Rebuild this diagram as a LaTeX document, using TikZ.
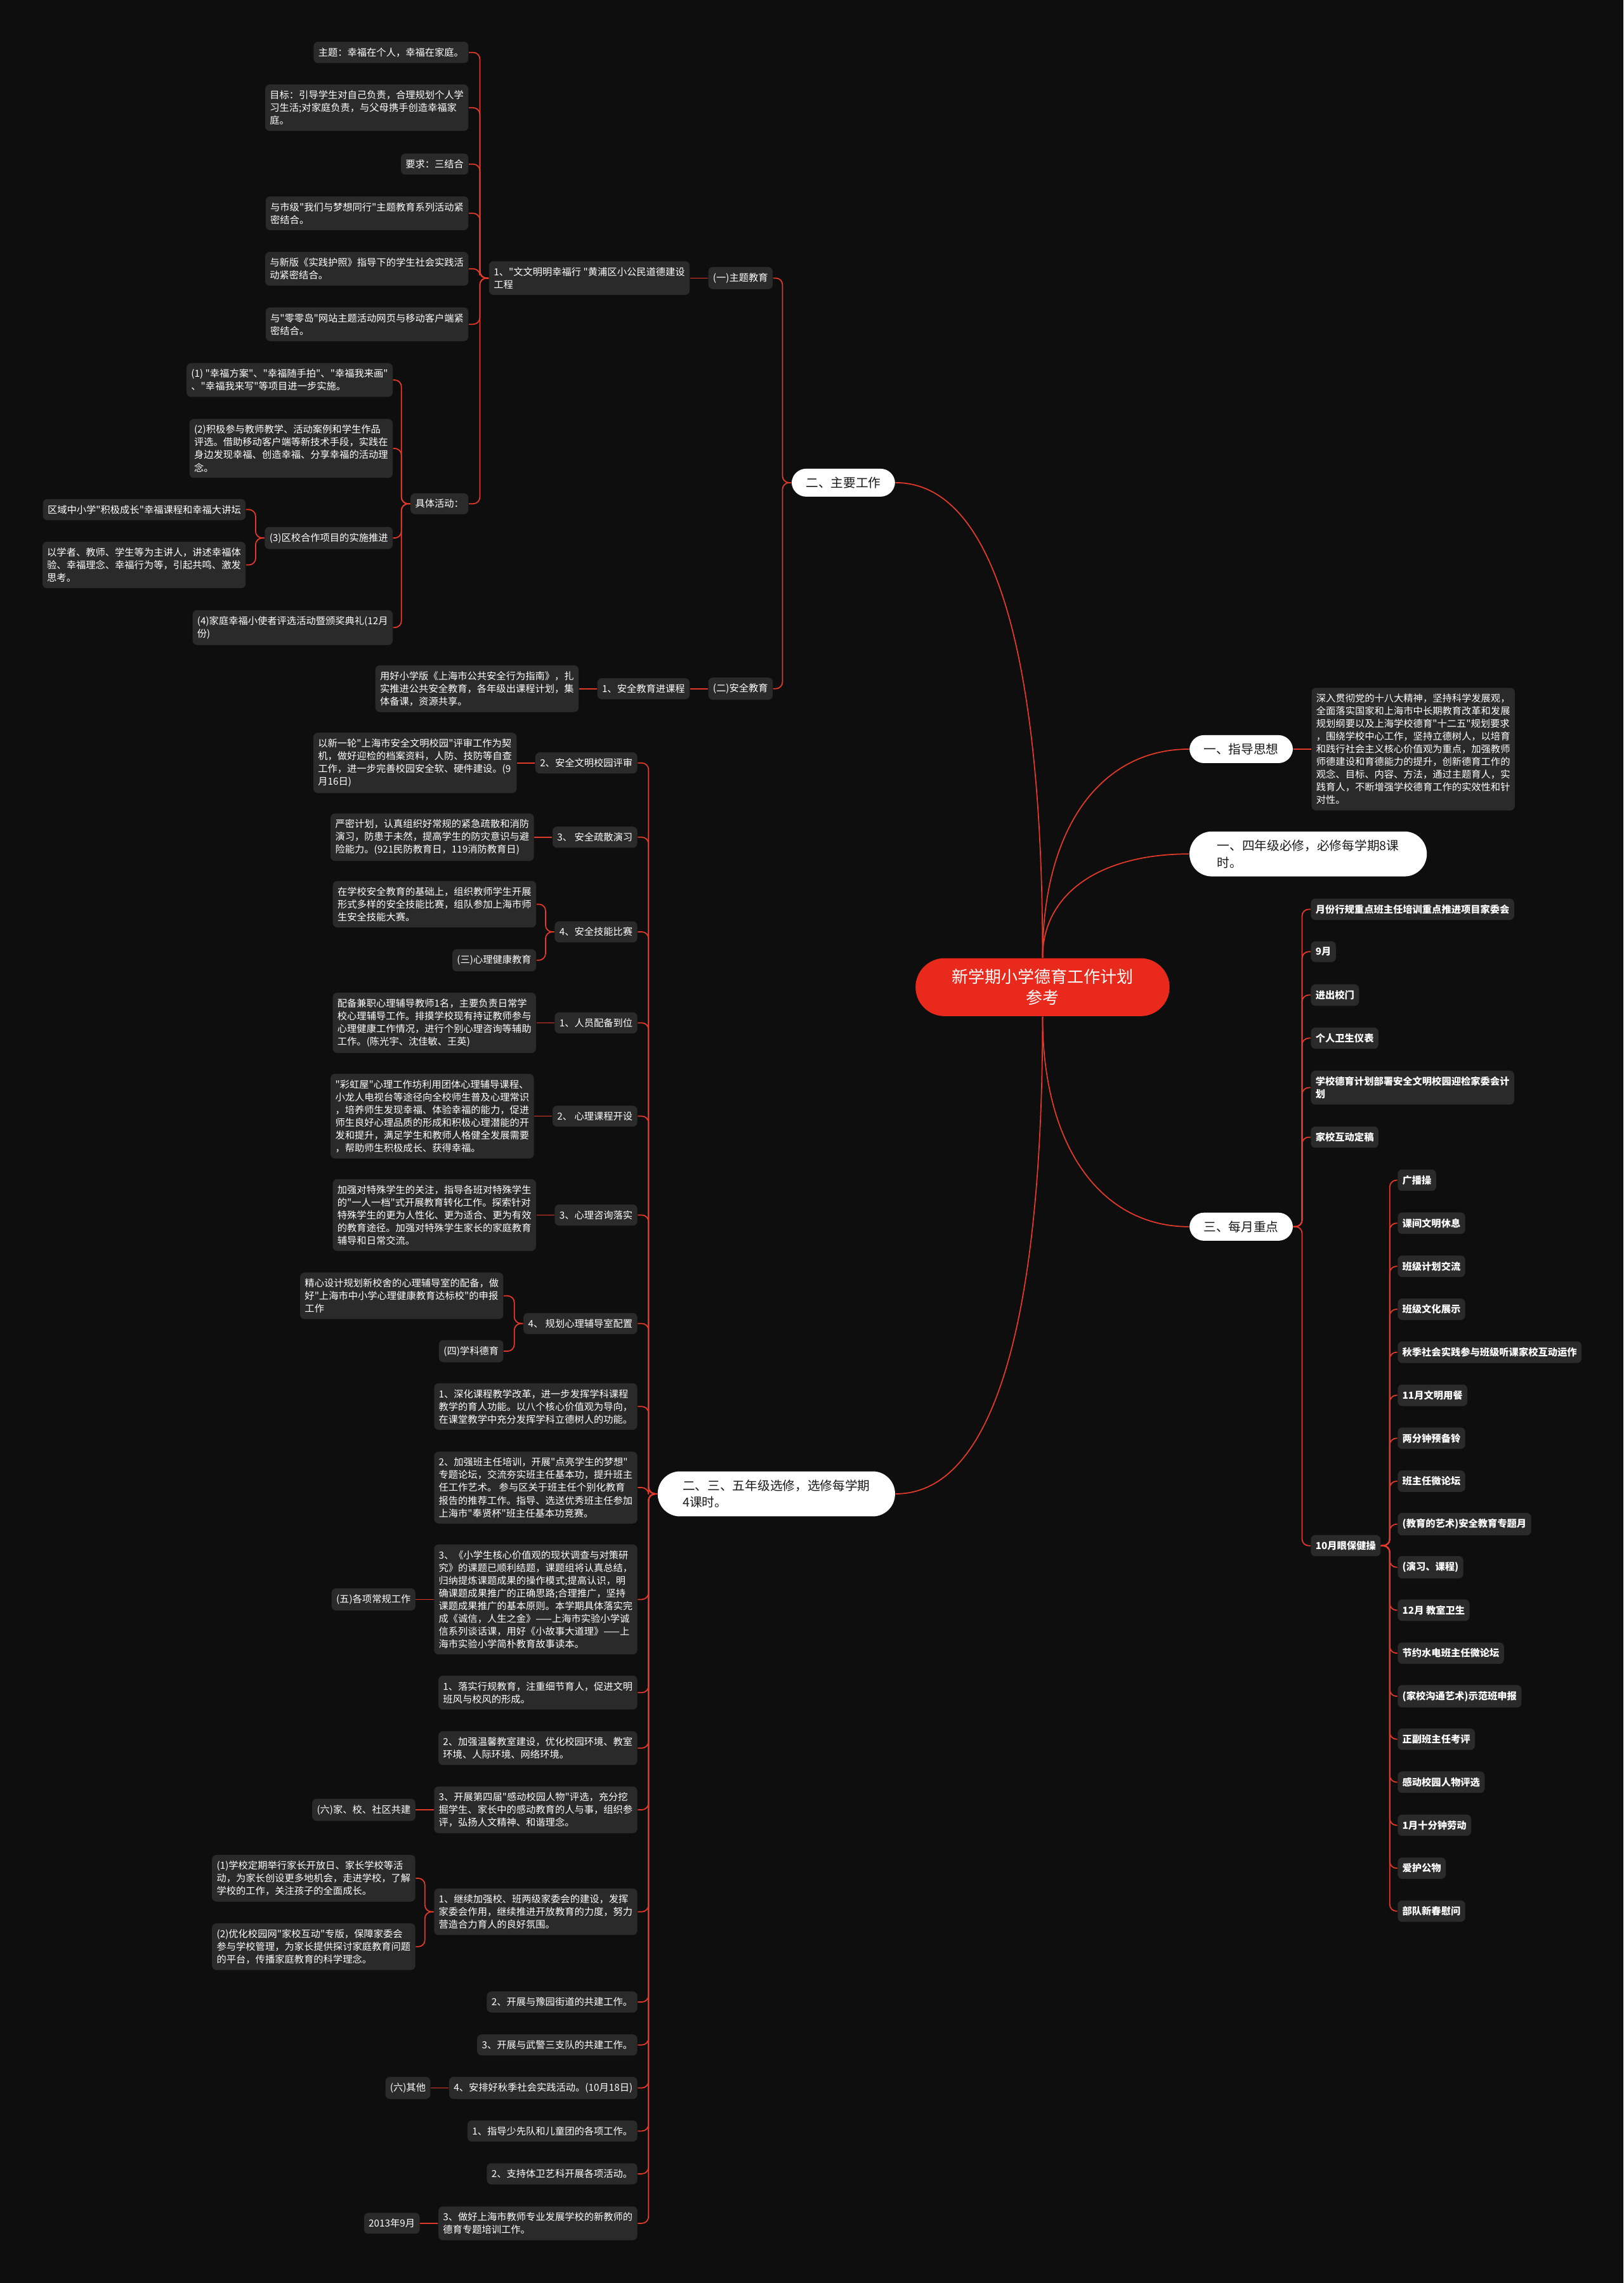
\documentclass[tikz,border=0pt]{standalone}
\usepackage{fontspec}
\setmainfont{Noto Sans CJK SC}[Ligatures=TeXOff]
\usepackage{tikz}
\usetikzlibrary{positioning}
\definecolor{bgdark}{HTML}{0E0E0E}
\definecolor{cardgray}{HTML}{2A2A2A}
\definecolor{linkred}{HTML}{E23A2A}
\definecolor{rootred}{HTML}{E8291C}
\definecolor{inkdark}{HTML}{1A1A1A}
\tikzset{
  rootbox/.style={
    rectangle, rounded corners=13pt, fill=rootred, text=white,
    font=\fontsize{7.4}{9.3}\selectfont, align=center,
    minimum width=114pt, minimum height=26pt, inner sep=2pt
  },
  topicbox/.style={
    rectangle, rounded corners=6.5pt, fill=white, text=inkdark,
    font=\fontsize{5.6}{7.6}\selectfont, align=left,
    inner xsep=6.4pt, inner ysep=3.7pt
  },
  widetopic/.style={
    topicbox, rounded corners=10pt, minimum width=106.5pt
  },
  card/.style={
    rectangle, rounded corners=2pt, fill=cardgray, text=white,
    font=\fontsize{4.35}{5.7}\selectfont, align=left,
    inner xsep=2.1pt, inner ysep=2.7pt
  },
  monthcard/.style={
    card, font=\fontsize{4.35}{5.7}\selectfont\bfseries
  },
  link/.style={draw=linkred, line width=0.5pt, rounded corners=3pt},
}

\begin{document}
\begin{tikzpicture}[x=0.02296cm, y=-0.02296cm]

\fill[bgdark] (0,0) rectangle (1115,1568);
\useasboundingbox (0,0) rectangle (1115,1568);

% ROOT
\node[rootbox] (root) at (716,678) {新学期小学德育工作计划\\参考};

% RIGHT: guide, grade 4, monthly
\node[topicbox, anchor=west] (guide) at (816.6,514.5) {一、指导思想};
\node[card, right=8pt of guide] (guidetext) {深入贯彻党的十八大精神，坚持科学发展观，\\全面落实国家和上海市中长期教育改革和发展\\规划纲要以及上海学校德育"十二五"规划要求\\，围绕学校中心工作，坚持立德树人，以培育\\和践行社会主义核心价值观为重点，加强教师\\师德建设和育德能力的提升，创新德育工作的\\观念、目标、内容、方法，通过主题育人，实\\践育人，不断增强学校德育工作的实效性和针\\对性。};
\node[widetopic, anchor=west] (grade4) at (816.6,586.5) {一、四年级必修，必修每学期8课\\时。};
\node[topicbox, anchor=west] (monthly) at (816.6,842.5) {三、每月重点};

\node[monthcard, anchor=west] (mplan) at (900,624.5) {月份行规重点班主任培训重点推进项目家委会};
\node[monthcard, anchor=west] (msept) at (900,653.6) {9月};
\node[monthcard, anchor=west] (mgate) at (900,683.4) {进出校门};
\node[monthcard, anchor=west] (mhygiene) at (900,713) {个人卫生仪表};
\node[monthcard, anchor=west] (mdeploy) at (900,747) {学校德育计划部署安全文明校园迎检家委会计\\划};
\node[monthcard, anchor=west] (mhomeschool) at (900,781) {家校互动定稿};
\node[monthcard, anchor=west] (moct) at (900,1061.6) {10月眼保健操};

\node[monthcard, anchor=west] (oexercise) at (959.6,810.6) {广播操};
\node[monthcard, anchor=west] (obreak) at (959.6,840.1) {课间文明休息};
\node[monthcard, anchor=west] (oplan) at (959.6,869.7) {班级计划交流};
\node[monthcard, anchor=west] (oculture) at (959.6,899.2) {班级文化展示};
\node[monthcard, anchor=west] (oautumn) at (959.6,928.7) {秋季社会实践参与班级听课家校互动运作};
\node[monthcard, anchor=west] (omeal) at (959.6,958.3) {11月文明用餐};
\node[monthcard, anchor=west] (obell) at (959.6,987.8) {两分钟预备铃};
\node[monthcard, anchor=west] (oforum) at (959.6,1017.3) {班主任微论坛};
\node[monthcard, anchor=west] (oart) at (959.6,1046.8) {(教育的艺术)安全教育专题月};
\node[monthcard, anchor=west] (odrill) at (959.6,1076.4) {(演习、课程)};
\node[monthcard, anchor=west] (odec) at (959.6,1105.9) {12月 教室卫生};
\node[monthcard, anchor=west] (osave) at (959.6,1135.4) {节约水电班主任微论坛};
\node[monthcard, anchor=west] (ocomm) at (959.6,1165) {(家校沟通艺术)示范班申报};
\node[monthcard, anchor=west] (oassess) at (959.6,1194.5) {正副班主任考评};
\node[monthcard, anchor=west] (otouch) at (959.6,1224) {感动校园人物评选};
\node[monthcard, anchor=west] (ojan) at (959.6,1253.6) {1月十分钟劳动};
\node[monthcard, anchor=west] (oprop) at (959.6,1283.1) {爱护公物};
\node[monthcard, anchor=west] (oarmy) at (959.6,1312.6) {部队新春慰问};

% LEFT TOP: main work
\node[topicbox, anchor=east] (mainwork) at (615,331.5) {二、主要工作};
\node[card, anchor=east] (themeedu) at (531,191) {(一)主题教育};
\node[card, anchor=east] (safeedu) at (531,473) {(二)安全教育};
\node[card, left=8pt of themeedu] (civic) {1、"文文明明幸福行 "黄浦区小公民道德建设\\工程};

\node[card, anchor=east] (civtheme) at (322,36) {主题：幸福在个人，幸福在家庭。};
\node[card, anchor=east] (civgoal) at (322,74) {目标：引导学生对自己负责，合理规划个人学\\习生活;对家庭负责，与父母携手创造幸福家\\庭。};
\node[card, anchor=east] (civreq) at (322,112.7) {要求：三结合};
\node[card, anchor=east] (civcity) at (322,146.5) {与市级"我们与梦想同行"主题教育系列活动紧\\密结合。};
\node[card, anchor=east] (civpass) at (322,184.6) {与新版《实践护照》指导下的学生社会实践活\\动紧密结合。};
\node[card, anchor=east] (civisland) at (322,222.7) {与"零零岛"网站主题活动网页与移动客户端紧\\密结合。};
\node[card, anchor=east] (civact) at (322,346) {具体活动：};

\node[card, anchor=east] (act1) at (270,261) {(1) "幸福方案"、"幸福随手拍"、"幸福我来画"\\、"幸福我来写"等项目进一步实施。};
\node[card, anchor=east] (act2) at (270,308) {(2)积极参与教师教学、活动案例和学生作品\\评选。借助移动客户端等新技术手段，实践在\\身边发现幸福、创造幸福、分享幸福的活动理\\念。};
\node[card, anchor=east] (act3) at (270,369.5) {(3)区校合作项目的实施推进};
\node[card, anchor=east] (act4) at (270,431) {(4)家庭幸福小使者评选活动暨颁奖典礼(12月\\份)};
\node[card, anchor=east] (act3a) at (169,350) {区域中小学"积极成长"幸福课程和幸福大讲坛};
\node[card, anchor=east] (act3b) at (169,388) {以学者、教师、学生等为主讲人，讲述幸福体\\验、幸福理念、幸福行为等，引起共鸣、激发\\思考。};

\node[card, left=8pt of safeedu] (safecourse) {1、安全教育进课程};
\node[card, left=8pt of safecourse] (safeguide) {用好小学版《上海市公共安全行为指南》，扎\\实推进公共安全教育，各年级出课程计划，集\\体备课，资源共享。};

% LEFT BOTTOM: electives
\node[widetopic, anchor=east] (elective) at (615,1026) {二、三、五年级选修，选修每学期\\4课时。};

\node[card, anchor=east] (evalhead) at (438,524) {2、安全文明校园评审};
\node[card, left=8pt of evalhead] (evaltext) {以新一轮"上海市安全文明校园"评审工作为契\\机，做好迎检的档案资料，人防、技防等自查\\工作，进一步完善校园安全软、硬件建设。(9\\月16日)};
\node[card, anchor=east] (drillhead) at (438,575) {3、 安全疏散演习};
\node[card, left=8pt of drillhead] (drilltext) {严密计划，认真组织好常规的紧急疏散和消防\\演习，防患于未然，提高学生的防灾意识与避\\险能力。(921民防教育日，119消防教育日)};
\node[card, anchor=east] (skillhead) at (438,640) {4、安全技能比赛};
\node[card, anchor=east] (skilltext) at (368.5,621) {在学校安全教育的基础上，组织教师学生开展\\形式多样的安全技能比赛，组队参加上海市师\\生安全技能大赛。};
\node[card, anchor=east] (psyedu) at (368.5,659.5) {(三)心理健康教育};
\node[card, anchor=east] (staffhead) at (438,702.5) {1、人员配备到位};
\node[card, left=8pt of staffhead] (stafftext) {配备兼职心理辅导教师1名，主要负责日常学\\校心理辅导工作。排摸学校现有持证教师参与\\心理健康工作情况，进行个别心理咨询等辅助\\工作。(陈光宇、沈佳敏、王英)};
\node[card, anchor=east] (coursehead) at (438,766.6) {2、 心理课程开设};
\node[card, left=8pt of coursehead] (coursetext) {"彩虹屋"心理工作坊利用团体心理辅导课程、\\小龙人电视台等途径向全校师生普及心理常识\\，培养师生发现幸福、体验幸福的能力，促进\\师生良好心理品质的形成和积极心理潜能的开\\发和提升，满足学生和教师人格健全发展需要\\，帮助师生积极成长、获得幸福。};
\node[card, anchor=east] (counselhead) at (438,834.5) {3、心理咨询落实};
\node[card, left=8pt of counselhead] (counseltext) {加强对特殊学生的关注，指导各班对特殊学生\\的"一人一档"式开展教育转化工作。探索针对\\特殊学生的更为人性化、更为适合、更为有效\\的教育途径。加强对特殊学生家长的家庭教育\\辅导和日常交流。};
\node[card, anchor=east] (roomhead) at (438,909) {4、 规划心理辅导室配置};
\node[card, anchor=east] (roomtext) at (346,890) {精心设计规划新校舍的心理辅导室的配备，做\\好"上海市中小学心理健康教育达标校"的申报\\工作};
\node[card, anchor=east] (subjedu) at (346,928) {(四)学科德育};

\node[card, anchor=east] (deepen) at (438,966) {1、深化课程教学改革，进一步发挥学科课程\\教学的育人功能。以八个核心价值观为导向，\\在课堂教学中充分发挥学科立德树人的功能。};
\node[card, anchor=east] (headteacher) at (438,1021.7) {2、加强班主任培训，开展"点亮学生的梦想"\\专题论坛，交流夯实班主任基本功，提升班主\\任工作艺术。 参与区关于班主任个别化教育\\报告的推荐工作。指导、选送优秀班主任参加\\上海市"奉贤杯"班主任基本功竞赛。};
\node[card, anchor=east] (research) at (438,1098.5) {3、《小学生核心价值观的现状调查与对策研\\究》的课题已顺利结题，课题组将认真总结，\\归纳提炼课题成果的操作模式;提高认识，明\\确课题成果推广的正确思路;合理推广，坚持\\课题成果推广的基本原则。本学期具体落实完\\成《诚信，人生之金》——上海市实验小学诚\\信系列谈话课，用好《小故事大道理》——上\\海市实验小学简朴教育故事读本。};
\node[card, left=8pt of research] (routine) {(五)各项常规工作};
\node[card, anchor=east] (conduct) at (438,1162.5) {1、落实行规教育，注重细节育人，促进文明\\班风与校风的形成。};
\node[card, anchor=east] (classroom) at (438,1200.6) {2、加强温馨教室建设，优化校园环境、教室\\环境、人际环境、网络环境。};
\node[card, anchor=east] (touching) at (438,1243) {3、开展第四届"感动校园人物"评选，充分挖\\掘学生、家长中的感动教育的人与事，组织参\\评，弘扬人文精神、和谐理念。};
\node[card, left=8pt of touching] (community) {(六)家、校、社区共建};
\node[card, anchor=east] (parentcomm) at (438,1313) {1、继续加强校、班两级家委会的建设，发挥\\家委会作用，继续推进开放教育的力度，努力\\营造合力育人的良好氛围。};
\node[card, anchor=east] (parent1) at (285.5,1290) {(1)学校定期举行家长开放日、家长学校等活\\动，为家长创设更多地机会，走进学校，了解\\学校的工作，关注孩子的全面成长。};
\node[card, anchor=east] (parent2) at (285.5,1337) {(2)优化校园网"家校互动"专版，保障家委会\\参与学校管理，为家长提供探讨家庭教育问题\\的平台，传播家庭教育的科学理念。};
\node[card, anchor=east] (yuyuan) at (438,1375) {2、开展与豫园街道的共建工作。};
\node[card, anchor=east] (police) at (438,1404.5) {3、开展与武警三支队的共建工作。};
\node[card, anchor=east] (autumn) at (438,1434) {4、安排好秋季社会实践活动。(10月18日)};
\node[card, left=8pt of autumn] (other) {(六)其他};
\node[card, anchor=east] (pioneer) at (438,1463.6) {1、指导少先队和儿童团的各项工作。};
\node[card, anchor=east] (sports) at (438,1493) {2、支持体卫艺科开展各项活动。};
\node[card, anchor=east] (newteacher) at (438,1527) {3、做好上海市教师专业发展学校的新教师的\\德育专题培训工作。};
\node[card, left=8pt of newteacher] (sept2013) {2013年9月};

% Root branches
\draw[link] (root.north) .. controls +(0,-200) and +(70,0) .. (mainwork.east);
\draw[link] (root.north) .. controls +(0,-90) and +(-60,0) .. (guide.west);
\draw[link] (root.north) .. controls +(0,-45) and +(-60,0) .. (grade4.west);
\draw[link] (root.south) .. controls +(0,90) and +(-60,0) .. (monthly.west);
\draw[link] (root.south) .. controls +(0,200) and +(70,0) .. (elective.east);

% Right links
\draw[link] (guide.east) -- (guidetext.west);
\draw[link] (monthly.east) -- ++(6,0) |- (mplan.west);
\draw[link] (monthly.east) -- ++(6,0) |- (msept.west);
\draw[link] (monthly.east) -- ++(6,0) |- (mgate.west);
\draw[link] (monthly.east) -- ++(6,0) |- (mhygiene.west);
\draw[link] (monthly.east) -- ++(6,0) |- (mdeploy.west);
\draw[link] (monthly.east) -- ++(6,0) |- (mhomeschool.west);
\draw[link] (monthly.east) -- ++(6,0) |- (moct.west);
\draw[link] (moct.east) -- ++(6,0) |- (oexercise.west);
\draw[link] (moct.east) -- ++(6,0) |- (obreak.west);
\draw[link] (moct.east) -- ++(6,0) |- (oplan.west);
\draw[link] (moct.east) -- ++(6,0) |- (oculture.west);
\draw[link] (moct.east) -- ++(6,0) |- (oautumn.west);
\draw[link] (moct.east) -- ++(6,0) |- (omeal.west);
\draw[link] (moct.east) -- ++(6,0) |- (obell.west);
\draw[link] (moct.east) -- ++(6,0) |- (oforum.west);
\draw[link] (moct.east) -- ++(6,0) |- (oart.west);
\draw[link] (moct.east) -- ++(6,0) |- (odrill.west);
\draw[link] (moct.east) -- ++(6,0) |- (odec.west);
\draw[link] (moct.east) -- ++(6,0) |- (osave.west);
\draw[link] (moct.east) -- ++(6,0) |- (ocomm.west);
\draw[link] (moct.east) -- ++(6,0) |- (oassess.west);
\draw[link] (moct.east) -- ++(6,0) |- (otouch.west);
\draw[link] (moct.east) -- ++(6,0) |- (ojan.west);
\draw[link] (moct.east) -- ++(6,0) |- (oprop.west);
\draw[link] (moct.east) -- ++(6,0) |- (oarmy.west);

% Left top links
\draw[link] (mainwork.west) -- ++(-6,0) |- (themeedu.east);
\draw[link] (mainwork.west) -- ++(-6,0) |- (safeedu.east);
\draw[link] (themeedu.west) -- (civic.east);
\draw[link] (civic.west) -- ++(-6,0) |- (civtheme.east);
\draw[link] (civic.west) -- ++(-6,0) |- (civgoal.east);
\draw[link] (civic.west) -- ++(-6,0) |- (civreq.east);
\draw[link] (civic.west) -- ++(-6,0) |- (civcity.east);
\draw[link] (civic.west) -- ++(-6,0) |- (civpass.east);
\draw[link] (civic.west) -- ++(-6,0) |- (civisland.east);
\draw[link] (civic.west) -- ++(-6,0) |- (civact.east);
\draw[link] (civact.west) -- ++(-6,0) |- (act1.east);
\draw[link] (civact.west) -- ++(-6,0) |- (act2.east);
\draw[link] (civact.west) -- ++(-6,0) |- (act3.east);
\draw[link] (civact.west) -- ++(-6,0) |- (act4.east);
\draw[link] (act3.west) -- ++(-6,0) |- (act3a.east);
\draw[link] (act3.west) -- ++(-6,0) |- (act3b.east);
\draw[link] (safeedu.west) -- (safecourse.east);
\draw[link] (safecourse.west) -- (safeguide.east);

% Left bottom links
\draw[link] (elective.west) -- ++(-6,0) |- (evalhead.east);
\draw[link] (elective.west) -- ++(-6,0) |- (drillhead.east);
\draw[link] (elective.west) -- ++(-6,0) |- (skillhead.east);
\draw[link] (elective.west) -- ++(-6,0) |- (staffhead.east);
\draw[link] (elective.west) -- ++(-6,0) |- (coursehead.east);
\draw[link] (elective.west) -- ++(-6,0) |- (counselhead.east);
\draw[link] (elective.west) -- ++(-6,0) |- (roomhead.east);
\draw[link] (elective.west) -- ++(-6,0) |- (deepen.east);
\draw[link] (elective.west) -- ++(-6,0) |- (headteacher.east);
\draw[link] (elective.west) -- ++(-6,0) |- (research.east);
\draw[link] (elective.west) -- ++(-6,0) |- (conduct.east);
\draw[link] (elective.west) -- ++(-6,0) |- (classroom.east);
\draw[link] (elective.west) -- ++(-6,0) |- (touching.east);
\draw[link] (elective.west) -- ++(-6,0) |- (parentcomm.east);
\draw[link] (elective.west) -- ++(-6,0) |- (yuyuan.east);
\draw[link] (elective.west) -- ++(-6,0) |- (police.east);
\draw[link] (elective.west) -- ++(-6,0) |- (autumn.east);
\draw[link] (elective.west) -- ++(-6,0) |- (pioneer.east);
\draw[link] (elective.west) -- ++(-6,0) |- (sports.east);
\draw[link] (elective.west) -- ++(-6,0) |- (newteacher.east);
\draw[link] (evalhead.west) -- (evaltext.east);
\draw[link] (drillhead.west) -- (drilltext.east);
\draw[link] (skillhead.west) -- ++(-6,0) |- (skilltext.east);
\draw[link] (skillhead.west) -- ++(-6,0) |- (psyedu.east);
\draw[link] (staffhead.west) -- (stafftext.east);
\draw[link] (coursehead.west) -- (coursetext.east);
\draw[link] (counselhead.west) -- (counseltext.east);
\draw[link] (roomhead.west) -- ++(-6,0) |- (roomtext.east);
\draw[link] (roomhead.west) -- ++(-6,0) |- (subjedu.east);
\draw[link] (research.west) -- (routine.east);
\draw[link] (touching.west) -- (community.east);
\draw[link] (parentcomm.west) -- ++(-6,0) |- (parent1.east);
\draw[link] (parentcomm.west) -- ++(-6,0) |- (parent2.east);
\draw[link] (autumn.west) -- (other.east);
\draw[link] (newteacher.west) -- (sept2013.east);

\end{tikzpicture}
\end{document}
